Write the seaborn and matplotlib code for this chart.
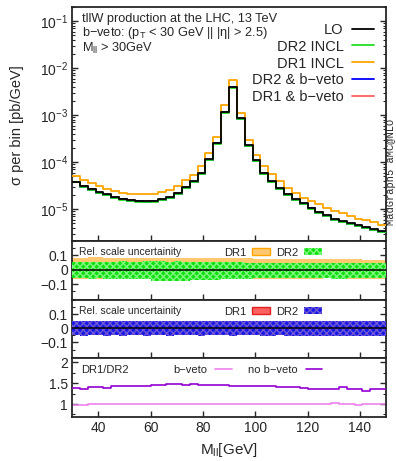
import numpy as np
import matplotlib
matplotlib.use("Agg")
import matplotlib.pyplot as plt
import seaborn as sns
from matplotlib.patches import Patch
from matplotlib.lines import Line2D
from matplotlib.ticker import MultipleLocator, FixedLocator, FuncFormatter, LogLocator, NullFormatter

sns.set_style("ticks")
plt.rcParams["font.family"] = ["Liberation Sans", "DejaVu Sans"]
plt.rcParams["mathtext.fontset"] = "custom"
plt.rcParams["mathtext.rm"] = "Liberation Sans"
plt.rcParams["mathtext.it"] = "Liberation Sans:italic"
plt.rcParams["xtick.direction"] = "in"
plt.rcParams["ytick.direction"] = "in"
plt.rcParams["axes.linewidth"] = 1.3
plt.rcParams["hatch.linewidth"] = 1.0

# 3 GeV bins from 30 to 150
edges = np.arange(30, 153, 3)

# sigma per bin [pb/GeV], in units of 1e-5
lo = np.array([3.85, 3.10, 2.65, 2.28, 2.05, 1.80, 1.66, 1.56, 1.51, 1.49,
               1.51, 1.62, 1.78, 2.20, 2.95, 3.90, 5.90, 11.5, 26.0, 117,
               400, 85.0, 23.0, 11.0, 5.90, 3.95, 2.76, 2.05, 1.63, 1.32,
               1.08, 0.87, 0.74, 0.61, 0.56, 0.50, 0.45, 0.41, 0.37, 0.34]) * 1e-5
dr2_incl = np.array([3.70, 2.98, 2.55, 2.20, 1.97, 1.73, 1.60, 1.50, 1.45, 1.43,
                     1.45, 1.56, 1.71, 2.12, 2.84, 3.74, 5.65, 11.0, 24.9, 112,
                     385, 81.5, 22.0, 10.5, 5.65, 3.78, 2.64, 1.96, 1.56, 1.27,
                     1.03, 0.84, 0.71, 0.59, 0.54, 0.48, 0.43, 0.39, 0.355, 0.325]) * 1e-5
dr1_incl = np.array([5.04, 4.27, 3.63, 3.18, 2.74, 2.44, 2.26, 2.15, 2.08, 2.07,
                     2.12, 2.30, 2.50, 3.08, 4.15, 5.40, 8.20, 15.3, 34.7, 163,
                     556, 112, 30.0, 14.1, 8.20, 5.50, 3.95, 2.83, 2.26, 1.74,
                     1.48, 1.26, 1.07, 0.92, 0.81, 0.71, 0.63, 0.59, 0.53, 0.46]) * 1e-5
dr2_bveto = np.array([3.75, 3.02, 2.58, 2.22, 2.00, 1.75, 1.62, 1.52, 1.47, 1.45,
                      1.47, 1.58, 1.73, 2.14, 2.87, 3.79, 5.72, 11.2, 25.2, 114,
                      389, 82.5, 22.3, 10.7, 5.70, 3.82, 2.66, 1.98, 1.57, 1.27,
                      1.04, 0.84, 0.715, 0.59, 0.54, 0.48, 0.435, 0.395, 0.357, 0.328]) * 1e-5
dr1_bveto = np.array([3.80, 3.05, 2.62, 2.25, 2.03, 1.79, 1.65, 1.55, 1.50, 1.47,
                      1.49, 1.60, 1.75, 2.17, 2.90, 3.82, 5.78, 11.3, 25.5, 115,
                      392, 83.2, 22.5, 10.8, 5.76, 3.86, 2.69, 2.00, 1.59, 1.29,
                      1.05, 0.85, 0.72, 0.60, 0.545, 0.485, 0.44, 0.40, 0.36, 0.33]) * 1e-5

# relative scale uncertainty, inclusive
dr1_up = np.array([0.085, 0.085, 0.086, 0.086, 0.085, 0.085, 0.085, 0.084, 0.084, 0.084,
                   0.084, 0.083, 0.083, 0.083, 0.082, 0.082, 0.082, 0.081, 0.081, 0.080,
                   0.080, 0.079, 0.079, 0.078, 0.078, 0.077, 0.077, 0.076, 0.076, 0.075,
                   0.075, 0.074, 0.074, 0.073, 0.073, 0.072, 0.072, 0.071, 0.071, 0.070])
dr1_dn = np.array([-0.064, -0.065, -0.064, -0.066, -0.065, -0.066, -0.065, -0.066, -0.067, -0.066,
                   -0.070, -0.072, -0.071, -0.072, -0.070, -0.069, -0.068, -0.067, -0.066, -0.066,
                   -0.065, -0.065, -0.064, -0.064, -0.063, -0.063, -0.062, -0.062, -0.062, -0.061,
                   -0.061, -0.061, -0.060, -0.062, -0.061, -0.062, -0.066, -0.064, -0.063, -0.062])
dr2_up = np.array([0.055, 0.054, 0.056, 0.057, 0.055, 0.056, 0.058, 0.057, 0.056, 0.058,
                   0.059, 0.058, 0.057, 0.058, 0.056, 0.055, 0.054, 0.053, 0.052, 0.052,
                   0.051, 0.051, 0.050, 0.050, 0.049, 0.049, 0.049, 0.048, 0.048, 0.048,
                   0.047, 0.047, 0.047, 0.046, 0.046, 0.046, 0.045, 0.045, 0.045, 0.045])
dr2_dn = np.array([-0.060, -0.060, -0.061, -0.060, -0.062, -0.061, -0.062, -0.061, -0.062, -0.062,
                   -0.078, -0.080, -0.079, -0.080, -0.076, -0.074, -0.072, -0.070, -0.068, -0.066,
                   -0.064, -0.063, -0.062, -0.060, -0.060, -0.059, -0.058, -0.058, -0.057, -0.057,
                   -0.056, -0.058, -0.057, -0.063, -0.062, -0.058, -0.057, -0.056, -0.056, -0.055])

# relative scale uncertainty, with b-veto
bv1_up = np.array([0.044, 0.045, 0.044, 0.046, 0.047, 0.045, 0.046, 0.047, 0.045, 0.044,
                   0.046, 0.045, 0.044, 0.046, 0.045, 0.044, 0.044, 0.045, 0.046, 0.044,
                   0.045, 0.046, 0.045, 0.047, 0.045, 0.044, 0.046, 0.045, 0.047, 0.046,
                   0.045, 0.047, 0.046, 0.045, 0.048, 0.049, 0.047, 0.050, 0.049, 0.048])
bv1_dn = np.array([-0.046, -0.047, -0.045, -0.046, -0.048, -0.046, -0.047, -0.045, -0.046, -0.047,
                   -0.046, -0.045, -0.047, -0.046, -0.045, -0.046, -0.047, -0.046, -0.045, -0.046,
                   -0.047, -0.046, -0.045, -0.046, -0.047, -0.048, -0.046, -0.047, -0.049, -0.048,
                   -0.047, -0.049, -0.048, -0.050, -0.049, -0.051, -0.050, -0.052, -0.053, -0.052])
bv2_up = np.array([0.050, 0.052, 0.049, 0.051, 0.053, 0.050, 0.052, 0.053, 0.051, 0.050,
                   0.052, 0.051, 0.050, 0.052, 0.051, 0.050, 0.049, 0.050, 0.051, 0.049,
                   0.050, 0.051, 0.050, 0.052, 0.050, 0.049, 0.051, 0.050, 0.052, 0.051,
                   0.050, 0.052, 0.051, 0.050, 0.053, 0.054, 0.052, 0.055, 0.054, 0.053])
bv2_dn = np.array([-0.050, -0.051, -0.049, -0.050, -0.052, -0.050, -0.051, -0.049, -0.050, -0.051,
                   -0.050, -0.049, -0.051, -0.050, -0.049, -0.050, -0.051, -0.050, -0.049, -0.050,
                   -0.051, -0.050, -0.049, -0.050, -0.051, -0.052, -0.050, -0.051, -0.053, -0.052,
                   -0.051, -0.053, -0.052, -0.054, -0.053, -0.055, -0.054, -0.056, -0.057, -0.056])

# DR1/DR2 ratios
ratio_bveto = np.array([0.98, 0.98, 0.99, 0.99, 0.99, 1.00, 1.01, 1.01, 1.00, 1.00,
                        1.00, 1.00, 1.00, 0.99, 1.00, 1.00, 1.00, 1.00, 1.00, 1.00,
                        1.00, 1.00, 1.00, 1.00, 1.00, 0.99, 1.00, 1.00, 1.00, 1.00,
                        1.00, 1.01, 1.00, 1.02, 1.01, 0.99, 0.98, 0.99, 0.99, 1.00])
ratio_nobveto = np.array([1.38, 1.36, 1.40, 1.40, 1.39, 1.42, 1.42, 1.44, 1.42, 1.42,
                          1.46, 1.46, 1.47, 1.47, 1.46, 1.47, 1.46, 1.46, 1.45, 1.45,
                          1.44, 1.44, 1.43, 1.43, 1.42, 1.42, 1.41, 1.40, 1.40, 1.39,
                          1.37, 1.37, 1.36, 1.36, 1.40, 1.36, 1.36, 1.32, 1.36, 1.36])

C_LO = "black"
C_DR2 = "#22dd22"
C_DR1 = "#ffa500"
C_BV2 = "#0000ff"
C_BV1 = "#ff6060"
C_RB = "#ee82ee"
C_RN = "#9400d3"

W, H = 396, 461
fig = plt.figure(figsize=(W / 100, H / 100), dpi=100)


def add_panel(top, bottom):
    return fig.add_axes([72 / W, 1 - bottom / H, 314 / W, (bottom - top) / H])


ax1 = add_panel(7, 241)
ax2 = add_panel(241, 300)
ax3 = add_panel(300, 358)
ax4 = add_panel(358, 417)


def ext(v):
    return np.append(v, v[-1])


def steps(ax, vals, color, lw=1.3, z=2):
    sns.lineplot(x=edges, y=ext(vals), ax=ax, color=color, lw=lw, drawstyle="steps-post",
                 estimator=None, sort=False, zorder=z, legend=False)


## main panel
ax1.set_yscale("log")
steps(ax1, dr1_bveto, C_BV1, z=2)
steps(ax1, dr2_bveto, C_BV2, z=3)
steps(ax1, dr2_incl, C_DR2, z=4)
steps(ax1, dr1_incl, C_DR1, z=5)
steps(ax1, lo, C_LO, z=6)
ax1.set_ylim(2.1e-6, 0.2)
ax1.yaxis.set_major_locator(LogLocator(base=10, numticks=10))
ax1.yaxis.set_minor_locator(LogLocator(base=10, subs=np.arange(2, 10), numticks=10))
ax1.yaxis.set_minor_formatter(NullFormatter())

handles = [Line2D([], [], color=c, lw=1.3) for c in [C_LO, C_DR2, C_DR1, C_BV2, C_BV1]]
labels = ["LO", "DR2 INCL", "DR1 INCL", "DR2 & b\u2212veto", "DR1 & b\u2212veto"]
ax1.legend(handles, labels, loc="upper right", bbox_to_anchor=(0.962, 0.933), frameon=False,
           markerfirst=False, fontsize=10.5, handlelength=1.5, labelspacing=0.2,
           borderpad=0, borderaxespad=0, handletextpad=0.6)

info = ("tllW production at the LHC, 13 TeV\n"
        "b\u2212veto: (p$_\\mathrm{T}$ < 30 GeV || |\u03b7| > 2.5)\n"
        "M$_\\mathrm{ll}$ > 30GeV")
ax1.text(0.032, 0.975, info, transform=ax1.transAxes, fontsize=9.2, va="top",
         linespacing=1.01)

## DR1 / DR2 uncertainty, inclusive
ax2.fill_between(edges, ext(dr1_dn), ext(dr1_up), step="post", facecolor="#ffc870",
                 edgecolor="none", zorder=2)
ax2.fill_between(edges, ext(dr2_dn), ext(dr2_up), step="post", facecolor="#10e010",
                 edgecolor="#80f880", hatch="xxxxx", lw=0, zorder=3)
ax2.axhline(0, color="black", lw=1.1, zorder=4)
ax2.text(0.022, 0.81, "Rel. scale uncertainity", transform=ax2.transAxes,
         fontsize=7.5, va="center")
h2 = [Patch(facecolor="#ffc870", edgecolor="#ffa500", lw=1),
      Patch(facecolor="#10e010", edgecolor="#80f880", hatch="xxxxx", lw=0)]
ax2.legend(h2, ["DR1", "DR2"], ncol=2, loc="center", bbox_to_anchor=(0.64, 0.8),
           frameon=False, markerfirst=False, fontsize=8, handlelength=1.6,
           handleheight=0.6, columnspacing=0.6, handletextpad=0.5, borderpad=0)

## DR1 / DR2 uncertainty, b-veto
ax3.fill_between(edges, ext(bv1_dn), ext(bv1_up), step="post", facecolor=C_BV1,
                 edgecolor="none", zorder=2)
ax3.fill_between(edges, ext(bv2_dn), ext(bv2_up), step="post", facecolor="#1818e8",
                 edgecolor="#7058d0", hatch="xxxxx", lw=0, zorder=3)
ax3.axhline(0, color="black", lw=1.1, zorder=4)
ax3.text(0.022, 0.81, "Rel. scale uncertainity", transform=ax3.transAxes,
         fontsize=7.5, va="center")
h3 = [Patch(facecolor=C_BV1, edgecolor="#e02020", lw=1),
      Patch(facecolor="#1818e8", edgecolor="#7058d0", hatch="xxxxx", lw=0)]
ax3.legend(h3, ["DR1", "DR2"], ncol=2, loc="center", bbox_to_anchor=(0.64, 0.8),
           frameon=False, markerfirst=False, fontsize=8, handlelength=1.6,
           handleheight=0.6, columnspacing=0.6, handletextpad=0.5, borderpad=0)

for ax in (ax2, ax3):
    ax.set_ylim(-0.21, 0.2)
    ax.yaxis.set_major_locator(FixedLocator([-0.1, 0, 0.1]))
    ax.yaxis.set_minor_locator(MultipleLocator(0.05))
    ax.yaxis.set_major_formatter(FuncFormatter(lambda v, p: {-0.1: "\u22120.1", 0: "0", 0.1: "0.1"}.get(round(v, 2), "")))

## ratio panel
steps(ax4, ratio_bveto, C_RB, lw=1.2, z=2)
steps(ax4, ratio_nobveto, C_RN, lw=1.2, z=3)
ax4.set_ylim(0.69, 2.1)
ax4.yaxis.set_major_locator(FixedLocator([1, 1.5, 2]))
ax4.yaxis.set_minor_locator(MultipleLocator(0.25))
ax4.yaxis.set_major_formatter(FuncFormatter(lambda v, p: f"{v:g}"))
ax4.text(0.03, 0.80, "DR1/DR2", transform=ax4.transAxes, fontsize=8, va="center")
h4 = [Line2D([], [], color=C_RB, lw=1.2), Line2D([], [], color=C_RN, lw=1.2)]
ax4.legend(h4, ["b\u2212veto", "no b\u2212veto"], ncol=2, loc="center",
           bbox_to_anchor=(0.56, 0.8), frameon=False, markerfirst=False, fontsize=8,
           handlelength=1.5, columnspacing=1.5, handletextpad=0.7, borderpad=0)

for ax in (ax1, ax2, ax3, ax4):
    ax.set_xlim(30, 150)
    ax.xaxis.set_major_locator(MultipleLocator(20))
    ax.tick_params(axis="both", which="major", length=4, width=1, labelsize=10,
                   right=True, top=False, pad=3)
    ax.tick_params(axis="y", which="minor", length=2, width=0.8, right=True)
    ax.set_xlabel("")
    ax.set_ylabel("")
for ax in (ax1, ax2, ax3):
    ax.tick_params(axis="x", labelbottom=False)

fig.text(17 / W, 1 - 125 / H, "\u03c3 per bin [pb/GeV]", rotation=90, fontsize=10.5,
         ha="center", va="center")
fig.text(229 / W, 1 - 450 / H, "M$_\\mathrm{ll}$[GeV]", fontsize=11, ha="center", va="center")
fig.text(391.5 / W, 1 - 172 / H, "MadGraph5 aMC@NLO", rotation=90, fontsize=7.5,
         family="Liberation Mono", ha="center", va="center")

fig.savefig("out.png", dpi=100)
